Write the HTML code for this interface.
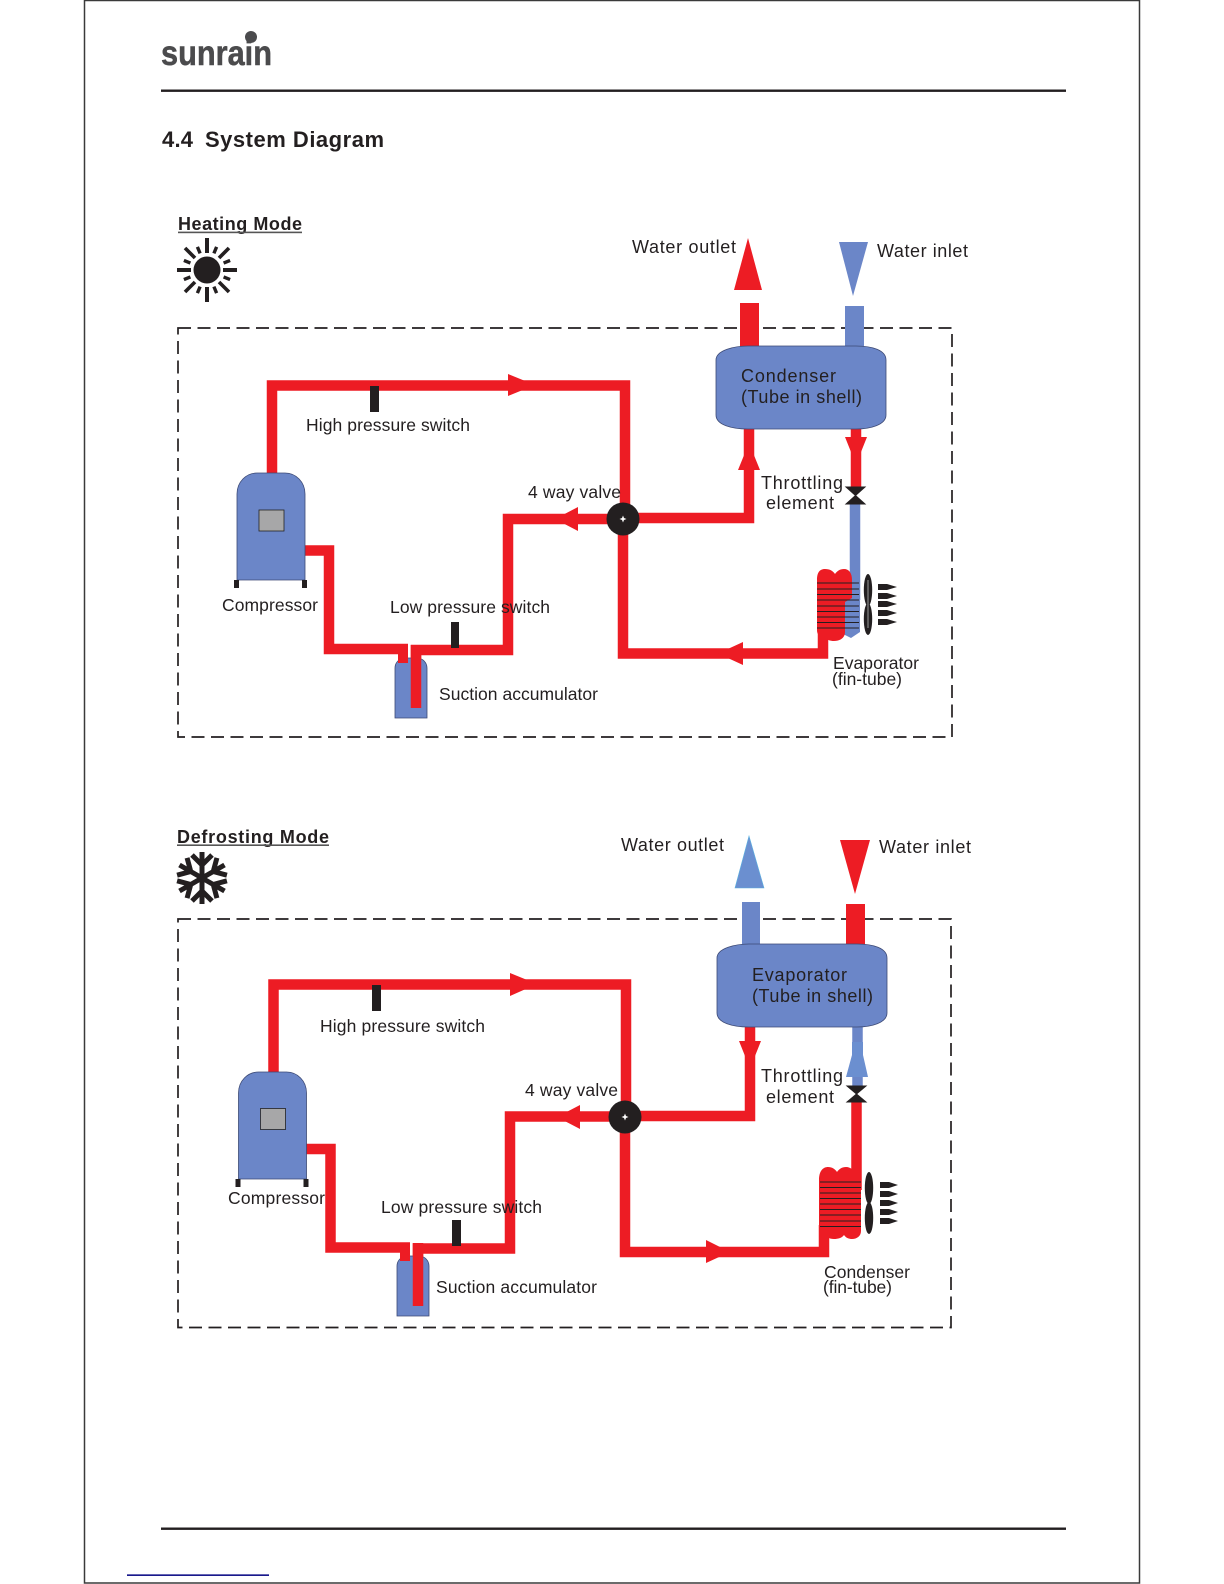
<!DOCTYPE html>
<html>
<head>
<meta charset="utf-8">
<title>4.4 System Diagram</title>
<style>
html,body{margin:0;padding:0;background:#fff;width:1224px;height:1584px;overflow:hidden}
svg{display:block}
text{font-family:"Liberation Sans",Arial,sans-serif;fill:#231f20}
.l{font-size:17.5px}
.s{font-size:18px}
.h{font-size:18px;font-weight:bold}
.r{fill:#ed1c24}
.b{fill:#6b86c8}
.k{fill:#231f20}
.rl{stroke:#ed1c24;fill:none;stroke-width:10.5;stroke-linejoin:miter}
.bl{stroke:#6b86c8;fill:none;stroke-width:10.5}
.eq{stroke:#3d4a75;stroke-width:.8;fill:#6b86c8}
.d{fill:none;stroke:#231f20;stroke-width:1.7;stroke-dasharray:13 6.5}
</style>
</head>
<body>
<svg width="1224" height="1584" viewBox="0 0 1224 1584" xmlns="http://www.w3.org/2000/svg">
<rect width="1224" height="1584" fill="#fff"/>
<!-- page frame -->
<path d="M84.5,1583 V0.5 H1139.5 V1583 Z" fill="none" stroke="#3a3a3a" stroke-width="1.5"/>
<!-- logo -->
<text x="161" y="65" font-size="35" font-weight="bold" textLength="111" lengthAdjust="spacingAndGlyphs" style="fill:#4b4b4d;stroke:#4b4b4d;stroke-width:.5">sunrain</text>
<circle cx="251" cy="37" r="6" fill="#4b4b4d"/>
<rect x="161" y="89.5" width="905" height="2.4" class="k"/>
<rect x="161" y="1527.5" width="905" height="2.4" class="k"/>
<rect x="127" y="1574.4" width="142" height="1.5" fill="#000080"/>
<!-- title -->
<text x="162" y="147" font-size="22" font-weight="bold" textLength="31">4.4</text>
<text x="205" y="147" font-size="22" font-weight="bold" textLength="179">System Diagram</text>

<!-- ================= HEATING ================= -->
<text x="178" y="230" class="h" textLength="124">Heating Mode</text>
<rect x="178" y="231.6" width="124" height="1.6" fill="#555"/>
<g transform="translate(207,270)" class="k">
<circle r="13.5" class="k"/>
<g stroke="#231f20" stroke-width="4" fill="none">
<path d="M0,-32V-17M0,32V17M-30,0H-16M30,0H16"/>
<path d="M-22,-22L-12,-12M22,-22L12,-12M-22,22L-12,12M22,22L12,12" stroke-width="3.6"/>
<path d="M-9.6,-23.100L-6.900,-16.600M9.600,-23.100L6.900,-16.600M-9.600,23.100L-6.900,16.600M9.600,23.100L6.900,16.600M-23.100,-9.600L-16.600,-6.900M23.100,-9.600L16.600,-6.900M-23.100,9.600L-16.600,6.900M23.100,9.600L16.600,6.900" stroke-width="3.400"/>
</g>
</g>
<rect x="178" y="328" width="774" height="409" class="d"/>

<!-- water tubes -->
<polygon points="748,238 762,290 734,290" class="r"/>
<rect x="740" y="303" width="19" height="45" class="r"/>
<polygon points="839,242 868,242 853,296" class="b"/>
<rect x="845" y="306" width="19" height="42" class="b"/>
<!-- refrigerant piping -->
<path class="rl" d="M272,474 V385.5 H625 V519"/>
<polygon points="508,374 535,385 508,396" class="r"/>
<path class="rl" d="M305,550.5 H329 V649 H408"/>
<path class="r" d="M398,649 h10 v14 h-10z"/>
<path class="rl" d="M416,708 V650 H508 V519 H623"/>
<polygon points="578,507 555,519 578,531" class="r"/>
<path class="rl" d="M623,519 V653.5 H823 V625"/>
<polygon points="743,642 718,653.500 743,665" class="r"/>
<path class="rl" d="M623,518 H749 V428"/>
<polygon points="749,443 760,470 738,470" class="r"/>
<path class="rl" d="M856,428 V490"/>
<polygon points="845,437 867,437 861,452 861,470 851,470 851,452" class="r"/>
<path class="bl" d="M855,503 V600"/>
<!-- condenser -->
<path class="eq" d="M716,360C716,350 735,346 748,346H856C872,346 886,350 886,360V415C886,425 870,429 856,429H748C732,429 716,425 716,415Z"/>
<!-- compressor -->
<path class="eq" d="M237,580V494C237,482 246,473 257,473H285C296,473 305,482 305,494V580Z"/>
<rect x="259" y="510" width="25" height="21" fill="#a7a7a8" stroke="#222" stroke-width=".8"/>
<rect x="234" y="580" width="5" height="8" class="k"/>
<rect x="302" y="580" width="5" height="8" class="k"/>
<!-- accumulator -->
<path class="eq" d="M395,718V668C395,662 400,658 405,658H417C423,658 427,663 427,668V718Z"/>
<path class="rl" d="M416,645V708"/>
<path class="r" d="M398,652h10v11h-10z"/>
<!-- switches -->
<rect x="370" y="386" width="9" height="26" class="k"/>
<rect x="451" y="622" width="8" height="26" class="k"/>
<!-- valve -->
<circle cx="623" cy="519" r="16.500" class="k"/>
<path d="M623,515.500l1,2.500 2.500,1 -2.500,1 -1,2.500 -1,-2.500 -2.500,-1 2.500,-1z" fill="#fff"/>
<!-- throttle -->
<path d="M846,487H865L846,504H865Z" class="k" stroke="#231f20"/>
<!-- evaporator coil -->
<path class="b" d="M843,598H860V632L851,638L843,634Z"/>
<path class="r" d="M817,580C817,572 820,569 825,569C830,569 833,571 835,574C837,571 840,569 844,569C849,569 852,573 852,580V598L845,602V632C845,638 840,641 834,641C830,641 827,640 824,637C819,637 817,634 817,630Z"/>
<g stroke="#231f20" stroke-width="1">
<path d="M817,583H859M817,589H859M817,594.500H859M817,600H859M817,606H859M817,611.500H859M817,617H859M817,622.500H859M817,628H859"/>
</g>
<ellipse cx="868" cy="590" rx="4.200" ry="16" class="k"/>
<ellipse cx="868" cy="619" rx="4.200" ry="16" class="k"/>
<rect x="867.300" y="580" width="1.400" height="48" fill="#777"/>
<g class="k">
<polygon points="878,584 887,584 897,587 887,590 878,590"/>
<polygon points="878,593 887,593 897,596 887,599 878,599"/>
<polygon points="878,601 887,601 897,604 887,607 878,607"/>
<polygon points="878,610 887,610 897,613 887,616 878,616"/>
<polygon points="878,619 887,619 897,622 887,625 878,625"/>
</g>
<!-- labels -->
<text x="632" y="253" class="s" textLength="104">Water outlet</text>
<text x="877" y="257" class="s" textLength="91">Water inlet</text>
<text x="741" y="382" class="s" textLength="95">Condenser</text>
<text x="741" y="403" class="s" textLength="121">(Tube in shell)</text>
<text x="761" y="489" class="s" textLength="82">Throttling</text>
<text x="766" y="509" class="s" textLength="68">element</text>
<text x="833" y="669" class="l" textLength="86">Evaporator</text>
<text x="832" y="685" class="l" textLength="70">(fin-tube)</text>
<text x="306" y="431" class="l" textLength="164">High pressure switch</text>
<text x="528" y="498" class="l" textLength="93">4 way valve</text>
<text x="222" y="611" class="l" textLength="96">Compressor</text>
<text x="390" y="613" class="l" textLength="160">Low pressure switch</text>
<text x="439" y="700" class="l" textLength="159">Suction accumulator</text>

<!-- ================= DEFROSTING ================= -->
<text x="177" y="843" class="h" textLength="152">Defrosting Mode</text>
<rect x="177" y="844.400" width="152" height="1.600" fill="#555"/>
<g transform="translate(202,878)" stroke="#231f20" stroke-width="5" fill="none">
<g><path d="M0,0V-26M-10,-23L0,-13L10,-23"/></g>
<g transform="rotate(60)"><path d="M0,0V-26M-10,-23L0,-13L10,-23"/></g>
<g transform="rotate(120)"><path d="M0,0V-26M-10,-23L0,-13L10,-23"/></g>
<g transform="rotate(180)"><path d="M0,0V-26M-10,-23L0,-13L10,-23"/></g>
<g transform="rotate(240)"><path d="M0,0V-26M-10,-23L0,-13L10,-23"/></g>
<g transform="rotate(300)"><path d="M0,0V-26M-10,-23L0,-13L10,-23"/></g>
</g>
<rect x="178" y="919" width="773" height="408.500" class="d"/>

<!-- water tubes -->
<polygon points="749,836 764,888 735,888" fill="#6b8fd0" stroke="#5bb0e0" stroke-width=".6"/>
<rect x="742" y="902" width="18" height="44" class="b"/>
<polygon points="840,840 870,840 855,894" class="r"/>
<rect x="846" y="904" width="19" height="42" class="r"/>
<!-- refrigerant piping -->
<path class="rl" d="M273.500,1073 V984.500 H626 V1117"/>
<polygon points="510,973 537,984 510,996" class="r"/>
<path class="rl" d="M306,1149 H330.500 V1247.500 H410"/>
<path class="rl" d="M418,1306 V1248.500 H510 V1116.500 H625"/>
<polygon points="580,1105 557,1117 580,1129" class="r"/>
<path class="rl" d="M625,1117 V1252 H824 V1225"/>
<polygon points="706,1240 730,1252 706,1263" class="r"/>
<path class="rl" d="M625,1116 H750 V1026"/>
<polygon points="739,1041 761,1041 755,1056 755,1075 750,1075 745,1075 745,1056" class="r"/>
<path class="bl" d="M857.500,1026 V1087"/>
<polygon points="852,1042 863,1042 863,1055 868,1077 846,1077 852,1055" fill="#6b8fd0"/>
<path class="rl" d="M856.500,1100 V1190"/>
<!-- evaporator shell -->
<path class="eq" d="M717,958C717,948 736,944 749,944H857C873,944 887,948 887,958V1013C887,1023 871,1027 857,1027H749C733,1027 717,1023 717,1013Z"/>
<!-- compressor -->
<path class="eq" d="M238.500,1179V1093C238.500,1081 247.500,1072 258.500,1072H286.500C297.500,1072 306.500,1081 306.500,1093V1179Z"/>
<rect x="260.500" y="1108.500" width="25" height="21" fill="#a7a7a8" stroke="#222" stroke-width=".8"/>
<rect x="235.500" y="1179" width="5" height="8" class="k"/>
<rect x="303.500" y="1179" width="5" height="8" class="k"/>
<!-- accumulator -->
<path class="eq" d="M397,1316V1266C397,1260 402,1256 407,1256H419C425,1256 429,1261 429,1266V1316Z"/>
<path class="rl" d="M418,1243V1306"/>
<path class="r" d="M400,1247h10v14h-10z"/>
<!-- switches -->
<rect x="372" y="985" width="9" height="26" class="k"/>
<rect x="452" y="1220" width="9" height="26" class="k"/>
<!-- valve -->
<circle cx="625" cy="1117" r="16.500" class="k"/>
<path d="M625,1113.500l1,2.500 2.500,1 -2.500,1 -1,2.500 -1,-2.500 -2.500,-1 2.500,-1z" fill="#fff"/>
<!-- throttle -->
<path d="M847,1086H866L847,1102H866Z" class="k" stroke="#231f20"/>
<!-- condenser coil -->
<path class="r" d="M819,1180C819,1171 823,1167 828,1167C832,1167 835,1169 837,1172C839,1169 842,1167 846,1167C851,1167 855,1171 857,1176H861V1231C861,1236 857,1239 852,1239C849,1239 846,1238 844,1235C842,1238 838,1239 834,1239C829,1239 826,1237 824,1233C821,1232 819,1229 819,1226Z"/>
<g stroke="#231f20" stroke-width="1">
<path d="M820,1182H861M820,1187.500H861M820,1193H861M820,1198.500H861M820,1204H861M820,1209.500H861M820,1215H861M820,1221H861M820,1226.500H861"/>
</g>
<ellipse cx="869" cy="1188" rx="4.200" ry="16" class="k"/>
<ellipse cx="869" cy="1218" rx="4.200" ry="16" class="k"/>
<g class="k">
<polygon points="880,1182 889,1182 898,1185 889,1188 880,1188"/>
<polygon points="880,1191 889,1191 898,1194 889,1197 880,1197"/>
<polygon points="880,1200 889,1200 898,1203 889,1206 880,1206"/>
<polygon points="880,1209 889,1209 898,1212 889,1215 880,1215"/>
<polygon points="880,1218 889,1218 898,1221 889,1224 880,1224"/>
</g>
<!-- labels -->
<text x="621" y="851" class="s" textLength="103">Water outlet</text>
<text x="879" y="853" class="s" textLength="92">Water inlet</text>
<text x="752" y="981" class="s" textLength="95">Evaporator</text>
<text x="752" y="1002" class="s" textLength="121">(Tube in shell)</text>
<text x="761" y="1082" class="s" textLength="82">Throttling</text>
<text x="766" y="1103" class="s" textLength="68">element</text>
<text x="824" y="1278" class="l" textLength="86">Condenser</text>
<text x="823" y="1293" class="l" textLength="69">(fin-tube)</text>
<text x="320" y="1032" class="l" textLength="165">High pressure switch</text>
<text x="525" y="1096" class="l" textLength="93">4 way valve</text>
<text x="228" y="1204" class="l" textLength="97">Compressor</text>
<text x="381" y="1213" class="l" textLength="161">Low pressure switch</text>
<text x="436" y="1293" class="l" textLength="161">Suction accumulator</text>
</svg>
</body>
</html>
